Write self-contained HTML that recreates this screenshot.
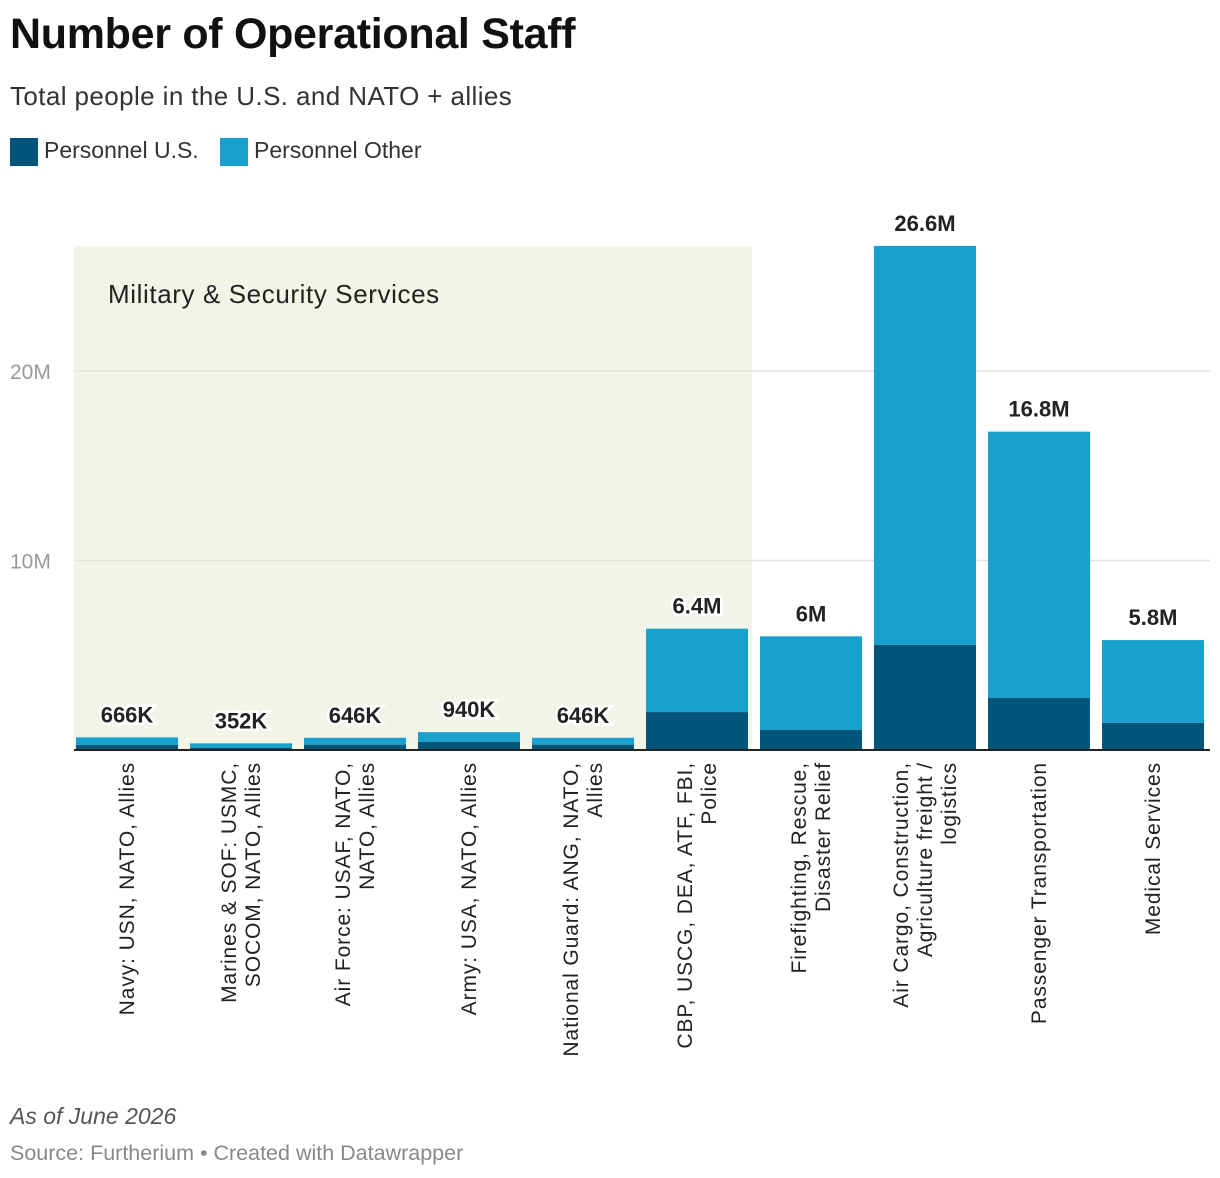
<!DOCTYPE html>
<html><head><meta charset="utf-8"><style>
body{margin:0;background:#fff;font-family:"Liberation Sans",Roboto,sans-serif;}
#wrap{position:relative;width:1220px;height:1178px;overflow:hidden}
.t{position:absolute;white-space:nowrap}
</style></head><body><div id="wrap">
<div class="t" style="left:10px;top:10px;font-size:43px;font-weight:bold;color:#111;letter-spacing:-0.3px">Number of Operational Staff</div>
<div class="t" style="left:10px;top:81px;font-size:26px;letter-spacing:0.4px;color:#333">Total people in the U.S. and NATO + allies</div>
<div class="t" style="left:10px;top:137px;font-size:23px;color:#333"><span style="display:inline-block;width:28px;height:28px;background:#03557a;vertical-align:middle;margin-right:6px"></span>Personnel U.S.</div>
<div class="t" style="left:220px;top:137px;font-size:23px;color:#333"><span style="display:inline-block;width:28px;height:28px;background:#18a1cd;vertical-align:middle;margin-right:6px"></span>Personnel Other</div>
<svg id="chart" width="1220" height="1178" style="position:absolute;left:0;top:0"></svg>
<div class="t" style="left:10px;top:1103px;font-size:23px;font-style:italic;color:#555">As of June 2026</div>
<div class="t" style="left:10px;top:1141px;font-size:21.5px;color:#888">Source: Furtherium • Created with Datawrapper</div>
</div>
<script>
const categories=[["Navy: USN, NATO, Allies"],["Marines & SOF: USMC,","SOCOM, NATO, Allies"],["Air Force: USAF, NATO,","NATO, Allies"],["Army: USA, NATO, Allies"],["National Guard: ANG, NATO,","Allies"],["CBP, USCG, DEA, ATF, FBI,","Police"],["Firefighting, Rescue,","Disaster Relief"],["Air Cargo, Construction,","Agriculture freight /","logistics"],["Passenger Transportation"],["Medical Services"]];
const usValues=[0.27,0.12,0.28,0.43,0.28,2.0,1.06,5.55,2.75,1.43];
const totalValues=[0.666,0.352,0.646,0.94,0.646,6.4,6.0,26.6,16.8,5.8];
const totalLabels=["666K","352K","646K","940K","646K","6.4M","6M","26.6M","16.8M","5.8M"];
const yTicks=[10,20];
const yTickLabels=["10M","20M"];
const NS="http://www.w3.org/2000/svg";
const svg=document.getElementById('chart');
const base=750,pxPerM=18.95,x0=76,step=114,bw=102;
const y=v=>base-v*pxPerM;
const x=i=>x0+i*step;
function mk(t,a){const e=document.createElementNS(NS,t);for(const k in a)e.setAttribute(k,a[k]);svg.appendChild(e);return e;}
let e=mk('rect',{x:74,y:y(26.6),width:678,height:base-y(26.6),fill:'#f3f4e8'});


e=mk('text',{x:108,y:303,'font-size':26,'letter-spacing':0.6,fill:'#222'});e.textContent='Military & Security Services';


yTicks.forEach((t,i)=>{
 let g=mk('line',{x1:74,x2:1210,y1:y(t),y2:y(t),stroke:'#e2e2e2','stroke-width':1.5});
 
 
 let l=mk('text',{x:10,y:y(t)+8,'font-size':21,fill:'#999'});l.textContent=yTickLabels[i];
 
 
});
categories.forEach((c,i)=>{
 let r=mk('rect',{x:x(i),y:y(totalValues[i]),width:bw,height:(totalValues[i]-usValues[i])*pxPerM,fill:'#18a1cd'});
 
 
 r=mk('rect',{x:x(i),y:y(usValues[i]),width:bw,height:usValues[i]*pxPerM,fill:'#03557a'});
 
 
 let t=mk('text',{x:x(i)+bw/2,y:y(totalValues[i])-15,'font-size':22,'font-weight':'bold','text-anchor':'middle',fill:'#222',stroke:'#fff','stroke-width':5,'paint-order':'stroke'});
 t.textContent=totalLabels[i];
 
 
 const cx=x(i)+bw/2,n=c.length,lh=24;
 let g=mk('text',{transform:`translate(${cx},762) rotate(-90)`,'font-size':21,'letter-spacing':0.9,fill:'#222','text-anchor':'end'});
 
 
 c.forEach((s,j)=>{const ts=document.createElementNS(NS,'tspan');ts.setAttribute('x',0);ts.setAttribute('y',(j-(n-1)/2)*lh+7);ts.textContent=s;g.appendChild(ts);});
});
e=mk('line',{x1:74,x2:1210,y1:base,y2:base,stroke:'#222','stroke-width':2});


</script></body></html>
